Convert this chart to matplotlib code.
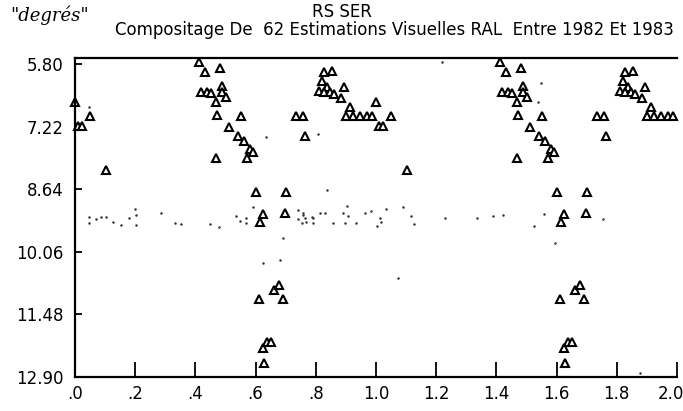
import matplotlib
matplotlib.use("Agg")
import matplotlib.pyplot as plt
from matplotlib.transforms import ScaledTranslation

# phase / magnitude of the estimates, one cycle (drawn twice: phase and phase+1)
phase = [0.000, 0.010, 0.022, 0.050, 0.103,
         0.413, 0.433, 0.483, 0.420, 0.440, 0.453, 0.467, 0.490, 0.490, 0.503,
         0.473, 0.470, 0.553, 0.510, 0.543, 0.563, 0.583, 0.590, 0.573,
         0.600, 0.700, 0.623, 0.613, 0.697,
         0.733, 0.757, 0.763,
         0.827, 0.853, 0.820, 0.810, 0.837, 0.827, 0.847, 0.860, 0.883, 0.893,
         0.913, 0.900, 0.923, 0.947, 0.970, 0.987,
         0.610, 0.660, 0.677, 0.690,
         0.623, 0.637, 0.650, 0.627]
mag = [6.66, 7.21, 7.21, 6.98, 8.21,
       5.75, 5.98, 5.89, 6.44, 6.44, 6.46, 6.66, 6.30, 6.44, 6.55,
       6.96, 7.92, 6.98, 7.23, 7.44, 7.55, 7.73, 7.80, 7.92,
       8.71, 8.69, 9.21, 9.38, 9.17,
       6.98, 6.98, 7.44,
       5.98, 5.96, 6.19, 6.41, 6.32, 6.44, 6.44, 6.48, 6.57, 6.32,
       6.78, 6.98, 6.98, 6.98, 6.98, 6.98,
       11.13, 10.92, 10.81, 11.13,
       12.24, 12.10, 12.10, 12.58]

# specks of the scanned sheet
speck_x = [0.048, 0.048, 0.071, 0.088, 0.104, 0.125, 0.154, 0.181, 0.198, 0.203,
           0.203, 0.286, 0.331, 0.353, 0.447, 0.480, 0.536, 0.547, 0.569, 0.569,
           0.590, 0.690, 0.680, 0.624, 0.757, 0.769, 0.790, 0.813, 0.857, 0.890,
           0.740, 0.757, 0.740, 0.763, 0.786, 0.753, 0.790, 0.830, 0.902, 0.907,
           0.896, 0.935, 0.962, 0.985, 1.012, 1.018, 1.002, 1.032, 1.089, 1.115,
           1.125, 1.228, 1.335, 1.388, 1.421, 1.524, 1.557, 1.594, 1.753, 1.072,
           1.877, 0.633, 0.806, 0.836, 1.218, 1.547, 1.537, 0.045]
speck_y = [9.27, 9.41, 9.31, 9.27, 9.27, 9.38, 9.45, 9.29, 9.09, 9.22,
           9.45, 9.18, 9.41, 9.43, 9.43, 9.50, 9.25, 9.36, 9.29, 9.41,
           9.04, 9.75, 10.24, 10.31, 9.22, 9.38, 9.29, 9.18, 9.41, 9.18,
           9.11, 9.18, 9.31, 9.29, 9.27, 9.41, 9.41, 9.18, 9.02, 9.25,
           9.41, 9.41, 9.18, 9.13, 9.29, 9.38, 9.47, 9.09, 9.04, 9.25,
           9.43, 9.29, 9.29, 9.25, 9.22, 9.47, 9.20, 9.86, 9.31, 10.65,
           12.81, 7.46, 7.39, 8.66, 5.75, 6.23, 6.66, 6.78]

yticks = [5.80, 7.22, 8.64, 10.06, 11.48, 12.90]
xticks = [0.0, 0.2, 0.4, 0.6, 0.8, 1.0, 1.2, 1.4, 1.6, 1.8, 2.0]
xlabels = [".0", ".2", ".4", ".6", ".8", "1.0", "1.2", "1.4", "1.6", "1.8", "2.0"]

font = "DejaVu Sans"

fig = plt.figure(figsize=(6.83, 4.11), dpi=100)
ax = fig.add_axes([75 / 683, 34 / 411, 602 / 683, 319 / 411])

ax.plot(speck_x, speck_y, ls="none", marker="o", ms=1.8, mew=0,
        color="#333333", clip_on=False)
for shift in (0, 1):
    ax.plot([p + shift for p in phase], mag, ls="none", marker="^", ms=5.2,
            mfc="white", mec="black", mew=1.5, clip_on=False)

ax.set_xlim(0, 2.0)
ax.set_ylim(12.90, 5.66)

ax.spines["right"].set_visible(False)
for s in ("left", "bottom", "top"):
    ax.spines[s].set_linewidth(1.6)

ax.set_xticks(xticks)
ax.set_xticklabels(xlabels)
ax.set_yticks(yticks)
ax.set_yticklabels([f"{v:.2f}" for v in yticks])
ax.tick_params(axis="x", direction="in", length=11, width=1.3, pad=6)
ax.tick_params(axis="y", direction="in", length=5, width=1.3, pad=8)
for lab in ax.get_xticklabels() + ax.get_yticklabels():
    lab.set_family(font)
    lab.set_fontsize(12)

# keep the last phase label inside the sheet
last = ax.get_xticklabels()[-1]
last.set_transform(last.get_transform() + ScaledTranslation(-6 / 100, 0, fig.dpi_scale_trans))

fig.text(0.5, 0.972, "RS SER", ha="center", va="center", family=font, fontsize=12)
fig.text(0.577, 0.927, "Compositage De  62 Estimations Visuelles RAL  Entre 1982 Et 1983",
         ha="center", va="center", family=font, fontsize=12)
fig.text(0.073, 0.962, "\"degrés\"", ha="center", va="center",
         family="DejaVu Serif", style="italic", fontsize=13)

fig.savefig("out.png", dpi=100)
